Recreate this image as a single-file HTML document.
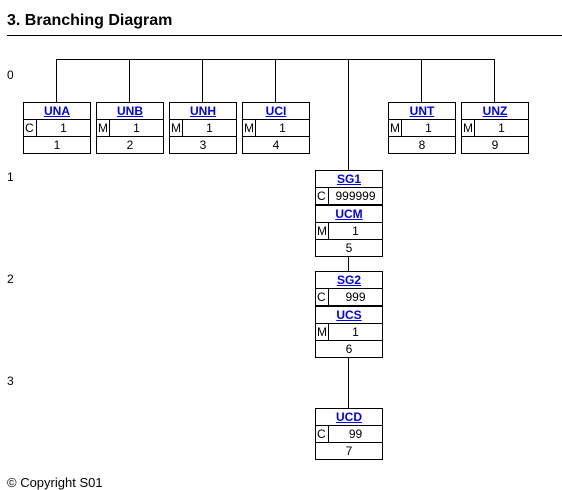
<!DOCTYPE html>
<html><head><style>
body{margin:0;width:562px;height:480px;position:relative;background:#fff;font-family:"Liberation Sans",Arial,sans-serif;overflow:hidden}
.a{position:absolute}
.h{position:absolute;background:#000;height:1px}
.v{position:absolute;background:#000;width:1px}
.box{position:absolute;width:66px;border:1px solid #000;font-size:12px;color:#000;background:#fff}
.t{height:16px;line-height:16px;text-align:center;border-bottom:1px solid #000}
.t a{color:#00e;font-weight:bold;text-decoration:underline}
.r{height:16px;line-height:16px;border-bottom:1px solid #000;display:flex}
.r .s{border-right:1px solid #000;padding-left:1px;box-sizing:border-box;width:13px}
.r .n{flex:1;text-align:center}
.p{height:16px;line-height:16px;text-align:center}
.tk{border-bottom:2px solid #000;height:16px}
.lvl{position:absolute;left:7px;font-size:12px}
</style></head><body>
<div class="a" style="left:7px;top:12px;font-size:16px;font-weight:bold">3. Branching Diagram</div>
<div class="h" style="left:7px;top:35px;width:555px"></div>
<div class="lvl" style="top:68px">0</div>
<div class="lvl" style="top:170px">1</div>
<div class="lvl" style="top:272px">2</div>
<div class="lvl" style="top:374px">3</div>

<div class="h" style="left:56px;top:59px;width:439px"></div>
<div class="v" style="left:56px;top:59px;height:43px"></div>
<div class="v" style="left:129px;top:59px;height:43px"></div>
<div class="v" style="left:202px;top:59px;height:43px"></div>
<div class="v" style="left:275px;top:59px;height:43px"></div>
<div class="v" style="left:348px;top:59px;height:111px"></div>
<div class="v" style="left:421px;top:59px;height:43px"></div>
<div class="v" style="left:494px;top:59px;height:43px"></div>
<div class="v" style="left:348px;top:255px;height:16px"></div>
<div class="v" style="left:348px;top:357px;height:51px"></div>

<div class="box" style="left:23px;top:102px"><div class="t"><a>UNA</a></div><div class="r"><span class="s">C</span><span class="n">1</span></div><div class="p">1</div></div>
<div class="box" style="left:96px;top:102px"><div class="t"><a>UNB</a></div><div class="r"><span class="s">M</span><span class="n">1</span></div><div class="p">2</div></div>
<div class="box" style="left:169px;top:102px"><div class="t"><a>UNH</a></div><div class="r"><span class="s">M</span><span class="n">1</span></div><div class="p">3</div></div>
<div class="box" style="left:242px;top:102px"><div class="t"><a>UCI</a></div><div class="r"><span class="s">M</span><span class="n">1</span></div><div class="p">4</div></div>
<div class="box" style="left:388px;top:102px"><div class="t"><a>UNT</a></div><div class="r"><span class="s">M</span><span class="n">1</span></div><div class="p">8</div></div>
<div class="box" style="left:461px;top:102px"><div class="t"><a>UNZ</a></div><div class="r"><span class="s">M</span><span class="n">1</span></div><div class="p">9</div></div>

<div class="box" style="left:315px;top:170px"><div class="t"><a>SG1</a></div><div class="r tk"><span class="s">C</span><span class="n">999999</span></div><div class="t"><a>UCM</a></div><div class="r"><span class="s">M</span><span class="n">1</span></div><div class="p">5</div></div>
<div class="box" style="left:315px;top:271px"><div class="t"><a>SG2</a></div><div class="r tk"><span class="s">C</span><span class="n">999</span></div><div class="t"><a>UCS</a></div><div class="r"><span class="s">M</span><span class="n">1</span></div><div class="p">6</div></div>
<div class="box" style="left:315px;top:408px"><div class="t"><a>UCD</a></div><div class="r"><span class="s">C</span><span class="n">99</span></div><div class="p">7</div></div>

<div class="a" style="left:7px;top:475px;font-size:13px">© Copyright S01</div>
</body></html>
